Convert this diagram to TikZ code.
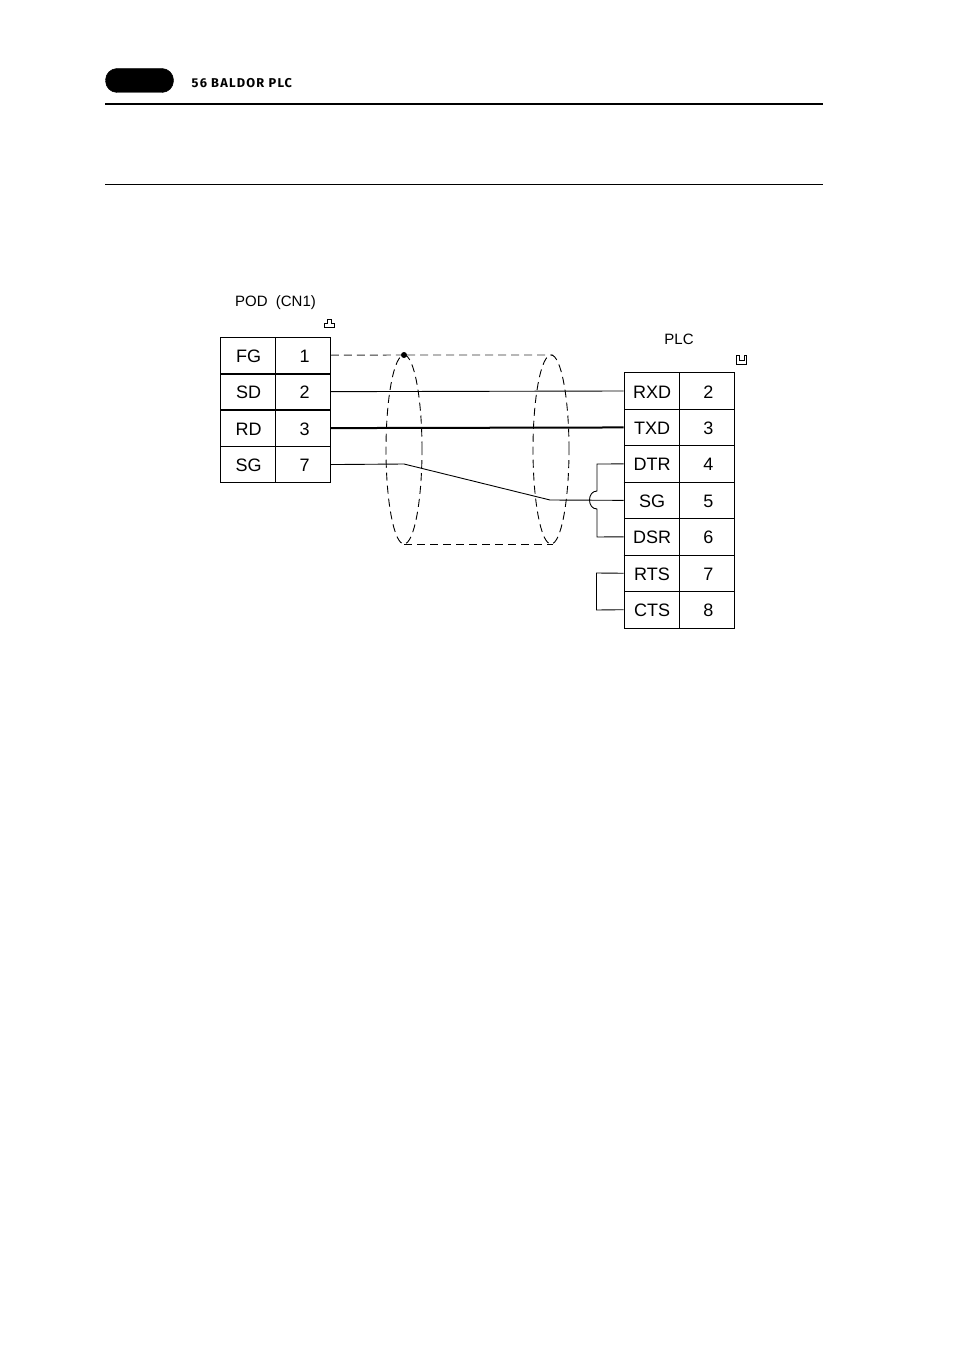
\documentclass[tikz,border=0pt]{standalone}
\usepackage{fontspec}
\setmainfont{Liberation Sans}
\newfontfamily\headfont[LetterSpace=9.5]{Fira Sans Bold}
\usepackage{xcolor}
\usepackage{tikz}
\definecolor{wiregray}{RGB}{50, 50, 50}
\tikzset{
  cell/.style={draw, line width=0.8pt, minimum width=55pt, minimum height=36.4pt, inner sep=0pt, font=\fontsize{18}{18}\selectfont, text height=14pt, text depth=0pt, execute at begin node=\hspace{1pt}},
  pincell/.style={cell, execute at begin node=\hspace{2.5pt}},
  wire/.style={line width=0.9pt},
  boldwire/.style={line width=2pt},
  shield/.style={line width=0.9pt, dash pattern=on 8pt off 5pt},
  caption/.style={inner sep=0pt, font=\fontsize{15}{15}\selectfont}
}
\begin{document}
\begin{tikzpicture}[x=1pt, y=-1pt, node distance=36.45pt]
    \useasboundingbox (0,0) rectangle (954,1348);

    % page header
    \node[draw, fill=black, rounded corners=11.5pt, minimum width=68pt, minimum height=24pt, inner sep=0pt] (tab) at (139.5,80.5) {};
    \node[anchor=west, inner sep=0pt, font=\fontsize{12.8}{12.8}\headfont] (title) at (191.5,83) {56 BALDOR PLC};
    \coordinate (rulea) at (105,104);
    \coordinate (ruleb) at (823,104);
    \coordinate (rulec) at (105,184.5);
    \coordinate (ruled) at (823,184.5);
    \draw[line width=2pt] (rulea) -- (ruleb);
    \draw[line width=0.9pt] (rulec) -- (ruled);

    % POD side
    \node[caption] (podname) at (275.5,302.5) {POD\ \ (CN1)};
    \node[cell] (fg) at (248,355.2) {FG};
    \node[pincell, right of=fg, xshift=18.55pt] (pin1) {1};
    \node[cell, below of=fg] (sd) {SD};
    \node[pincell, right of=sd, xshift=18.55pt] (pin2) {2};
    \node[cell, below of=sd] (rd) {RD};
    \node[pincell, right of=rd, xshift=18.55pt] (pin3) {3};
    \node[cell, below of=rd] (sg) {SG};
    \node[pincell, right of=sg, xshift=18.55pt] (pin7) {7};
    \draw[line width=1.6pt] (fg.south west) -- (pin1.south east);

    % PLC side
    \node[caption] (plcname) at (679,339) {PLC};
    \node[cell] (rxd) at (651.5,391) {RXD};
    \node[pincell, right of=rxd, xshift=18.55pt] (plc2) {2};
    \node[cell, below of=rxd] (txd) {TXD};
    \node[pincell, right of=txd, xshift=18.55pt] (plc3) {3};
    \node[cell, below of=txd] (dtr) {DTR};
    \node[pincell, right of=dtr, xshift=18.55pt] (plc4) {4};
    \node[cell, below of=dtr] (plcsg) {SG};
    \node[pincell, right of=plcsg, xshift=18.55pt] (plc5) {5};
    \node[cell, below of=plcsg] (dsr) {DSR};
    \node[pincell, right of=dsr, xshift=18.55pt] (plc6) {6};
    \node[cell, below of=dsr] (rts) {RTS};
    \node[pincell, right of=rts, xshift=18.55pt] (plc7) {7};
    \node[cell, below of=rts] (cts) {CTS};
    \node[pincell, right of=cts, xshift=18.55pt] (plc8) {8};
    \draw[line width=1.6pt] (dtr.south west) -- (plc4.south east);
    \draw[line width=1.6pt] (dsr.south west) -- (plc6.south east);

    % connector marks
    \draw[line width=0.8pt] (324.5,327.5) -- (334,327.5) -- (334,323) -- (331.5,323) -- (331.5,319) -- (327,319) -- (327,323) -- (324.5,323) -- cycle;
    \draw[line width=0.8pt] (736.5,355) -- (736.5,364.5) -- (746.5,364.5) -- (746.5,355) -- (744,355) -- (744,360) -- (739,360) -- (739,355) -- cycle;

    % shield
    \node[circle, fill=black, minimum size=6pt, inner sep=0pt] (drain) at (404,355) {};
    \coordinate (shieldtl) at (404,544);
    \coordinate (shieldtr) at (553,355);
    \coordinate (shieldbr) at (553,544);
    \draw[shield, wiregray] (pin1.east) -- (drain) -- (shieldtr);
    \draw[shield] (shieldtl) -- (shieldbr);
    \draw[shield] (404,449.5) ellipse (18pt and 94.5pt);
    \draw[shield] (551,449.5) ellipse (18pt and 94.5pt);

    % wires
    \coordinate (benda) at (404,464);
    \coordinate (bendb) at (550,500);
    \coordinate (dtrtop) at (597,464);
    \coordinate (hopa) at (597,491);
    \coordinate (hopb) at (597,509);
    \coordinate (dsrbot) at (597,537);
    \coordinate (rtstop) at (596.5,573);
    \coordinate (ctsbot) at (596.5,610);
    \draw[wire] (pin2.east) -- (rxd.west);
    \draw[boldwire] (pin3.east) -- (txd.west);
    \draw[wire] (pin7.east) -- (benda) -- (bendb) -- (plcsg.west);
    \draw[wire] (dtr.west) -- (dtrtop) -- (hopa) .. controls (587,491) and (587,509) .. (hopb) -- (dsrbot) -- (dsr.west);
    \draw[wire] (rts.west) -- (rtstop) -- (ctsbot) -- (cts.west);
\end{tikzpicture}
\end{document}
